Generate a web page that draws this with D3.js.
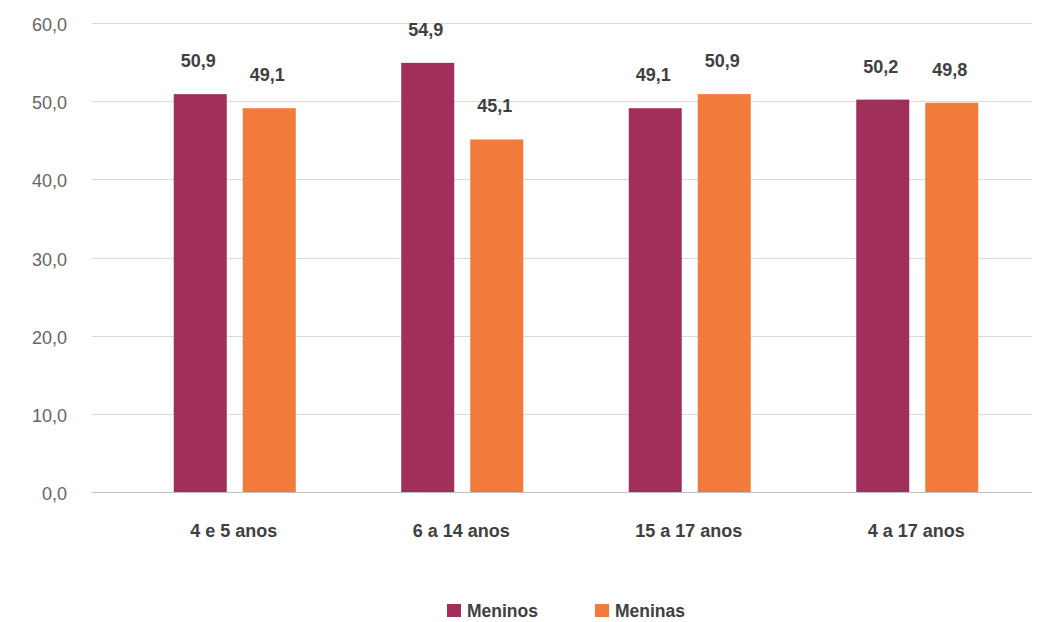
<!DOCTYPE html>
<meta charset="utf-8">
<head>
<style>
  body { margin: 0; background: #fff; }
  text { font-family: "Liberation Sans", Arial, sans-serif; }
</style>
</head>
<script src="https://d3js.org/d3.v7.min.js"></script>
<div id="chart"></div>
<script>

var categories = ["4 e 5 anos", "6 a 14 anos", "15 a 17 anos", "4 a 17 anos"];
var series = ["Meninos", "Meninas"];
var meninos = [50.9, 54.9, 49.1, 50.2];
var meninas = [49.1, 45.1, 50.9, 49.8];
var yTicks = [0, 10, 20, 30, 40, 50, 60];
var colors = ["#a02f5b", "#f27a3a"];

var width = 1046, height = 622;
var fmt = function(v) { return v.toFixed(1).replace(".", ","); };

var svg = d3.select("#chart")
  .append("svg")
    .attr("width", width)
    .attr("height", height);

var y = d3.scaleLinear()
  .domain([0, 60])
  .range([492, 23]);

var x = d3.scaleBand()
  .domain(categories)
  .range([121, 1031]);

// two bars, 53px wide, 16px apart
var x1 = d3.scaleBand()
  .domain(series)
  .range([0, 122])
  .paddingInner(0.232);

// grid lines
svg.selectAll("line.grid")
  .data(yTicks)
  .enter()
  .append("line")
    .attr("x1", 92)
    .attr("x2", 1032)
    .attr("y1", function(d) { return Math.round(y(d)) + 0.5; })
    .attr("y2", function(d) { return Math.round(y(d)) + 0.5; })
    .attr("stroke", function(d) { return d === 0 ? "#bfbfbf" : "#d9d9d9"; })
    .attr("stroke-width", 1);

// y labels
svg.selectAll("text.ytick")
  .data(yTicks)
  .enter()
  .append("text")
    .attr("x", 67)
    .attr("y", function(d) { return y(d) + 8; })
    .attr("text-anchor", "end")
    .style("font-size", "18px")
    .style("fill", "#666666")
    .text(fmt);

var rows = categories.map(function(c, i) {
  return { cat: c, vals: [meninos[i], meninas[i]] };
});

var groups = svg.selectAll("g.grp")
  .data(rows)
  .enter()
  .append("g")
    .attr("transform", function(d) {
      return "translate(" + (x(d.cat) + x.bandwidth() / 2 - 61) + ",0)";
    });

var bars = groups.selectAll("g.bar")
  .data(function(d) { return d.vals.map(function(v, k) { return { s: series[k], v: v, k: k }; }); })
  .enter()
  .append("g");

bars.append("rect")
  .attr("x", function(d) { return x1(d.s); })
  .attr("width", x1.bandwidth())
  .attr("y", function(d) { return y(d.v); })
  .attr("height", function(d) { return y(0) - y(d.v); })
  .attr("fill", function(d) { return colors[d.k]; });

bars.append("text")
  .attr("x", function(d) { return x1(d.s) + x1.bandwidth() / 2 - 2; })
  .attr("y", function(d) { return y(d.v) - 27; })
  .attr("text-anchor", "middle")
  .style("font-size", "18px")
  .style("font-weight", "bold")
  .style("fill", "#404040")
  .text(function(d) { return fmt(d.v); });

// category labels
svg.selectAll("text.cat")
  .data(categories)
  .enter()
  .append("text")
    .attr("x", function(d) { return x(d) + x.bandwidth() / 2 - 1; })
    .attr("y", 537)
    .attr("text-anchor", "middle")
    .style("font-size", "18px")
    .style("font-weight", "bold")
    .style("fill", "#404040")
    .text(function(d) { return d; });

// legend
var legendX = [447, 595];
var leg = svg.selectAll("g.leg")
  .data(series)
  .enter()
  .append("g")
    .attr("transform", function(d, i) { return "translate(" + legendX[i] + ",604)"; });

leg.append("rect")
  .attr("width", 14)
  .attr("height", 13)
  .attr("fill", function(d, i) { return colors[i]; });

leg.append("text")
  .attr("x", 20)
  .attr("y", 13)
  .style("font-size", "17.5px")
  .style("font-weight", "bold")
  .style("fill", "#404040")
  .text(function(d) { return d; });

</script>
